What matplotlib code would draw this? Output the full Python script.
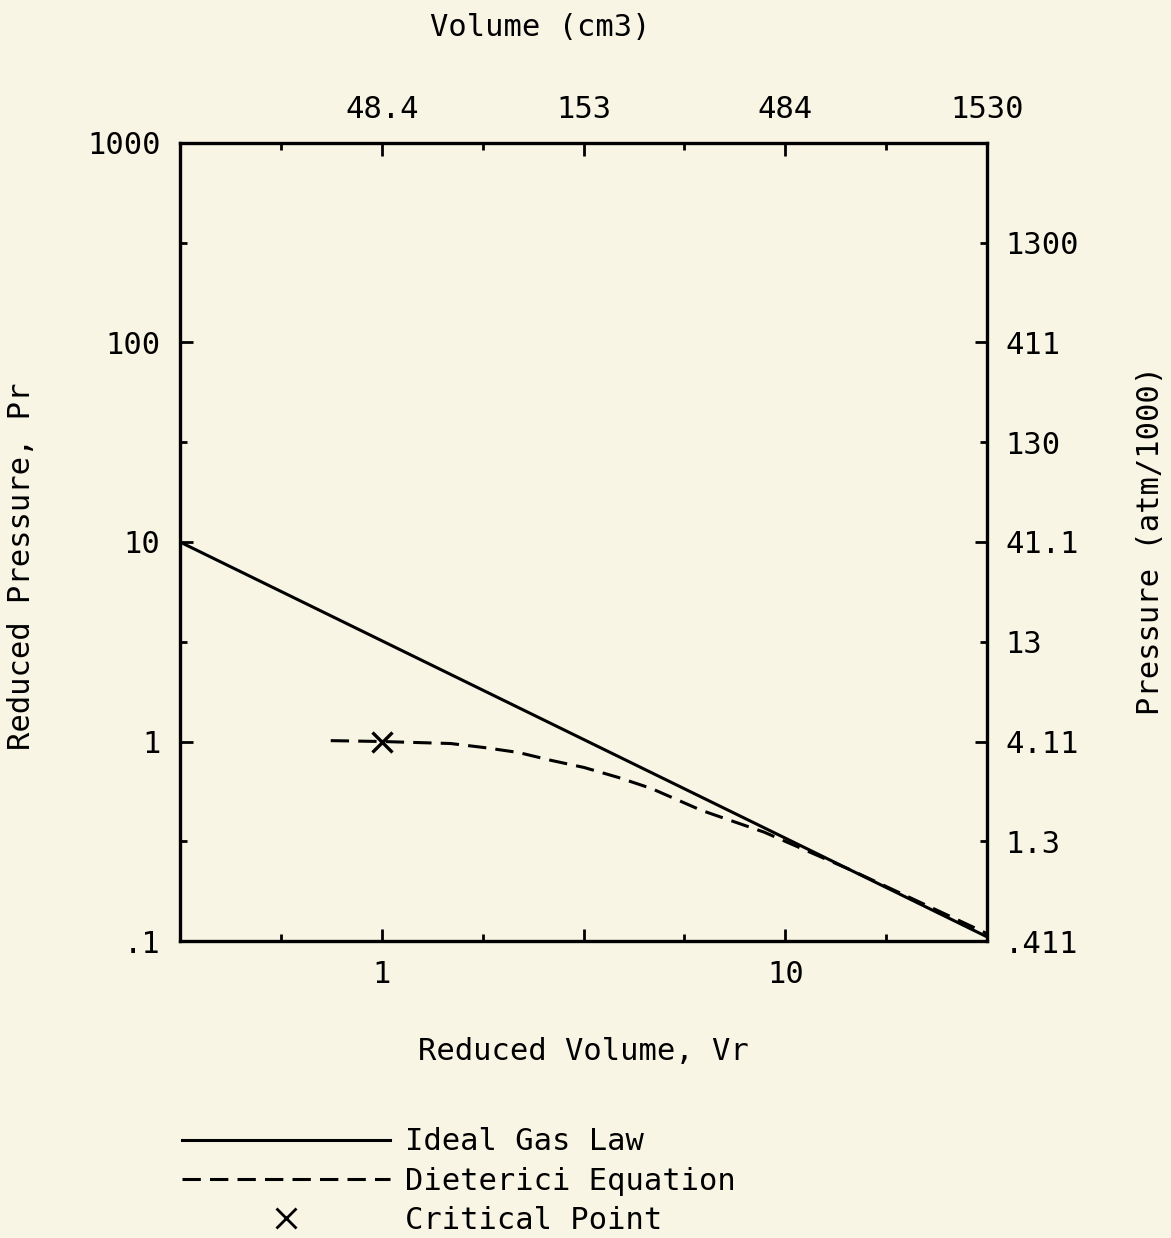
import numpy as np
import matplotlib
matplotlib.use("Agg")
import matplotlib.pyplot as plt
from matplotlib.ticker import FixedLocator, FixedFormatter, NullFormatter
from matplotlib.lines import Line2D

plt.rcParams['font.family'] = ['DejaVu Sans Mono', 'DejaVu Sans']

# reduced volume / reduced pressure
ideal_vr = [0.316, 31.6]
ideal_pr = [10.0, 0.105]

dieterici_vr = [0.747, 1.0, 1.48, 1.79, 2.18, 2.63, 3.17, 3.85, 4.65, 6.19, 8.87, 14.6, 31.9]
dieterici_pr = [1.01, 1.0, 0.977, 0.933, 0.881, 0.804, 0.741, 0.661, 0.582, 0.452, 0.351, 0.226, 0.108]

crit_vr = [1.0]
crit_pr = [1.0]

# axis ticks
pr_major = [0.1, 1, 10, 100, 1000]
pr_major_lbl = [".1", "1", "10", "100", "1000"]
pr_minor = [0.316, 3.16, 31.6, 316]

p_major_lbl = [".411", "4.11", "41.1", "411", ""]
p_minor_lbl = ["1.3", "13", "130", "1300"]

vr_major = [0.316, 1, 3.162, 10, 31.62]
vr_major_lbl = ["", "1", "", "10", ""]
vr_minor = [0.562, 1.778, 5.623, 17.78]
vol_lbl = ["", "48.4", "153", "484", "1530"]

bg = '#f8f5e4'
fs = 22

fig = plt.figure(figsize=(11.71, 12.38), dpi=100, facecolor=bg)
ax = fig.add_axes([0.1537, 0.2399, 0.6892, 0.6446], facecolor=bg)

ax.plot(ideal_vr, ideal_pr, color='k', lw=2.2, solid_capstyle='butt')
ax.plot(dieterici_vr, dieterici_pr, color='k', lw=2.2, linestyle=(0, (6, 3)))
ax.plot(crit_vr, crit_pr, linestyle='none', marker='x', color='k', markersize=14, mew=2.4)

ax.set_xscale('log')
ax.set_yscale('log')
ax.set_xlim(0.316, 31.62)
ax.set_ylim(0.1, 1000)

for s in ax.spines.values():
    s.set_linewidth(2.4)

ax.xaxis.set_major_locator(FixedLocator(vr_major))
ax.xaxis.set_major_formatter(FixedFormatter(vr_major_lbl))
ax.xaxis.set_minor_locator(FixedLocator(vr_minor))
ax.xaxis.set_minor_formatter(NullFormatter())
ax.yaxis.set_major_locator(FixedLocator(pr_major))
ax.yaxis.set_major_formatter(FixedFormatter(pr_major_lbl))
ax.yaxis.set_minor_locator(FixedLocator(pr_minor))
ax.yaxis.set_minor_formatter(NullFormatter())
ax.tick_params(which='major', direction='in', length=9, width=2, labelsize=fs, pad=14)
ax.tick_params(which='minor', direction='in', length=5, width=2)

ax.set_xlabel("Reduced Volume, Vr", fontsize=fs, va='center', ha='center')
ax.xaxis.set_label_coords(0.5, -0.139)
ax.set_ylabel("Reduced Pressure, Pr", fontsize=fs, va='center', ha='center')
ax.yaxis.set_label_coords(-0.196, 0.47)

# right axis: pressure
axr = ax.twinx()
axr.set_yscale('log')
axr.set_ylim(0.1, 1000)
axr.yaxis.set_major_locator(FixedLocator(pr_major))
axr.yaxis.set_major_formatter(FixedFormatter(p_major_lbl))
axr.yaxis.set_minor_locator(FixedLocator(pr_minor))
axr.yaxis.set_minor_formatter(FixedFormatter(p_minor_lbl))
axr.tick_params(which='both', direction='in', width=2, labelsize=fs, pad=13)
axr.tick_params(which='major', length=9)
axr.tick_params(which='minor', length=5)
axr.set_ylabel("Pressure (atm/1000)", fontsize=fs, va='center', ha='center')
axr.yaxis.set_label_coords(1.202, 0.5025)

# top axis: volume
axt = ax.twiny()
axt.set_xscale('log')
axt.set_xlim(0.316, 31.62)
axt.xaxis.set_major_locator(FixedLocator(vr_major))
axt.xaxis.set_major_formatter(FixedFormatter(vol_lbl))
axt.xaxis.set_minor_locator(FixedLocator(vr_minor))
axt.xaxis.set_minor_formatter(NullFormatter())
axt.tick_params(which='major', direction='in', length=9, width=2, labelsize=fs, pad=14)
axt.tick_params(which='minor', direction='in', length=5, width=2)
axt.set_xlabel("Volume (cm3)", fontsize=fs, va='center', ha='center')
axt.xaxis.set_label_coords(0.447, 1.145)

handles = [
    Line2D([], [], color='k', lw=2.2),
    Line2D([], [], color='k', lw=2.2, linestyle=(0, (6, 3))),
    Line2D([], [], color='k', lw=0, marker='x', markersize=14, mew=2.0),
]
labels = ["Ideal Gas Law", "Dieterici Equation", "Critical Point"]
fig.legend(handles, labels, loc='upper left', bbox_to_anchor=(0.1426, 0.1018),
           frameon=False, fontsize=fs, handlelength=6.8, handletextpad=0.5,
           labelspacing=0.34, borderpad=0)

fig.savefig("out.png", dpi=100, facecolor=bg)
